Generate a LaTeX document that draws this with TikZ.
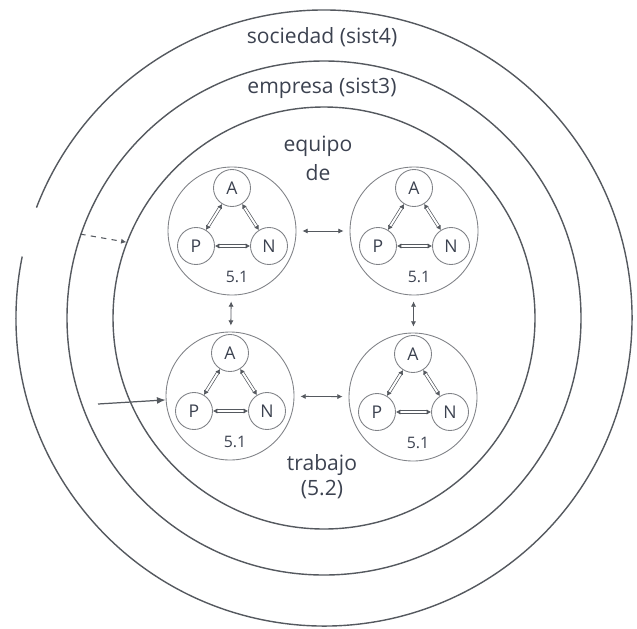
\documentclass[tikz,border=0pt]{standalone}
\usepackage{fontspec}
\setmainfont{Open Sans}
\usepackage{tikz}
\usetikzlibrary{arrows.meta,positioning}

\definecolor{ink}{HTML}{3C4250}
\definecolor{pencil}{HTML}{55595F}

\begin{document}
\begin{tikzpicture}[node distance=1cm, on grid, every node/.style={font=\small, text=ink},
    ring/.style={draw=pencil, line width=0.8pt, circle, inner sep=0pt},
    subsys/.style={draw=pencil!75, line width=0.5pt, circle, minimum size=2.56cm, inner sep=0pt},
    member/.style={draw=pencil!75, line width=0.5pt, circle, minimum size=0.74cm, inner sep=0pt, font=\normalsize},
    link/.style={draw=pencil, line width=0.4pt, double=white, double distance=1.1pt, {Latex[length=2.5pt,width=3pt]}-{Latex[length=2.5pt,width=3pt]}},
    tie/.style={draw=pencil, line width=0.5pt, {Latex[length=3pt,width=3pt]}-{Latex[length=3pt,width=3pt]}, shorten <=1.2mm, shorten >=1.2mm},
    title/.style={font=\large}]
    \useasboundingbox (0,0) rectangle (12.74,-12.56);
    \coordinate (c) at (6.48,-6.36);

    % the three systems around the team
    \draw[pencil, line width=0.8pt] (c) ++(168.5:6.16) arc[start angle=168.5, end angle=519, radius=6.16];
    \node (empresa) [ring, minimum size=10.28cm] at (c) {};
    \node (equipo) [ring, minimum size=8.44cm] at (c) {};

    \node (soc) [title] at (6.44,-0.74) {sociedad (sist4)};
    \node (emp) [title] at (6.44,-1.76) {empresa (sist3)};
    \node (eq) [title] at (6.36,-2.92) {equipo};
    \node (de) [title, below=0.54cm of eq] {de};
    \node (trab) [title] at (6.44,-9.30) {trabajo};
    \node (num) [title, below=0.5cm of trab] {(5.2)};

    % four subsystems 5.1
    \foreach \s/\x/\y in {tl/4.64/-4.62, tr/8.28/-4.62, bl/4.60/-7.92, br/8.26/-7.94} {
      \node (\s) [subsys] at (\x,\y) {};
      \node (\s-A) [member] at ([yshift=0.86cm]\s.center) {A};
      \node (\s-P) [member, below left=1.16cm and 0.72cm of \s-A] {P};
      \node (\s-N) [member, right=1.46cm of \s-P] {N};
      \node (\s-lbl) [below=0.92cm of \s, xshift=1mm] {5.1};
      \draw[link] (\s-A) -- (\s-P);
      \draw[link] (\s-A) -- (\s-N);
      \draw[link] (\s-P) -- (\s-N);
    }

    \draw[tie] (tl) -- (tr);
    \draw[tie] (bl) -- (br);
    \draw[tie] (tl) -- (bl);
    \draw[tie] (tr) -- (br);

    \draw[pencil, line width=0.6pt, dashed, -{Latex[length=3pt,width=3pt]}] (empresa.161) -- (equipo.159);
    \coordinate (src) at (1.96,-8.08);
    \draw[pencil, line width=0.7pt, -{Latex[length=5pt,width=4pt]}] (src) -- (bl);
\end{tikzpicture}
\end{document}
